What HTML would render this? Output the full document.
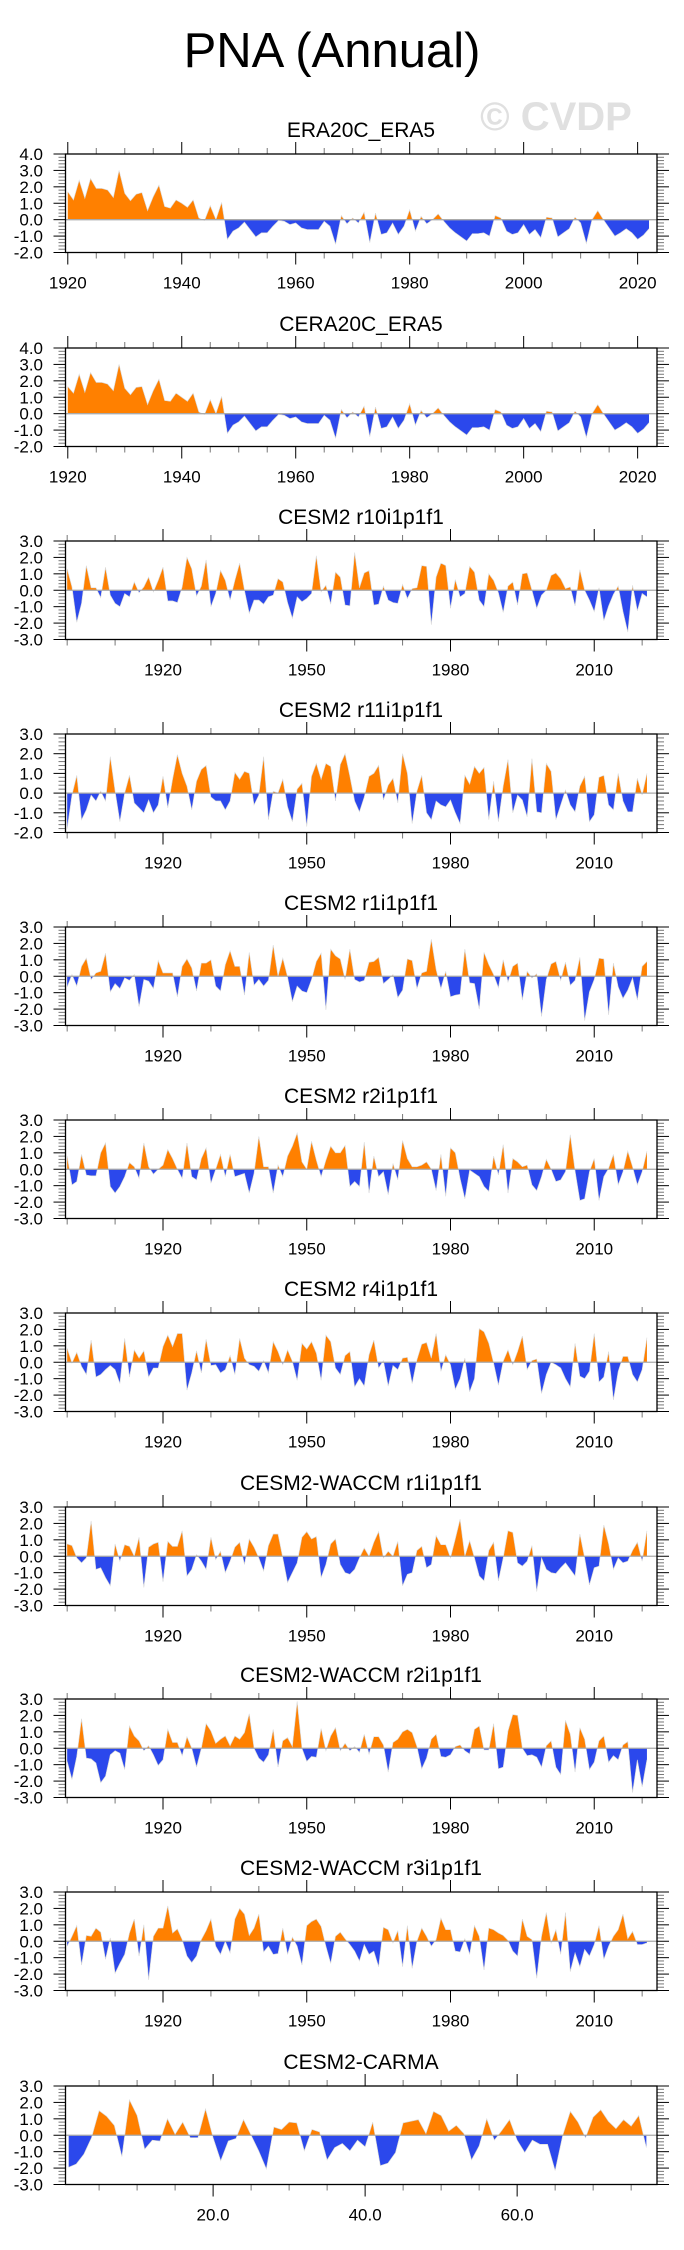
<!DOCTYPE html>
<html><head><meta charset="utf-8">
<style>
body{margin:0;background:#fff;}
svg{display:block;font-family:"Liberation Sans",Arial,sans-serif;}
</style></head>
<body>
<svg id="chart" width="684" height="2250" viewBox="0 0 684 2250">
<text x="332" y="67" font-size="49" text-anchor="middle" fill="#000">PNA (Annual)</text>
<text x="556" y="130" font-size="40" font-weight="bold" text-anchor="middle" fill="#e0e0e0">© CVDP</text>
</svg>
<script>
const titles = ["ERA20C_ERA5","CERA20C_ERA5","CESM2 r10i1p1f1","CESM2 r11i1p1f1","CESM2 r1i1p1f1","CESM2 r2i1p1f1","CESM2 r4i1p1f1","CESM2-WACCM r1i1p1f1","CESM2-WACCM r2i1p1f1","CESM2-WACCM r3i1p1f1","CESM2-CARMA"];
const era = [1.7,1.2,2.4,1.3,2.5,1.9,1.9,1.8,1.35,3.0,1.6,1.15,1.55,1.65,0.55,1.4,2.1,0.8,0.7,1.2,1.0,0.75,1.2,0.1,-0.05,0.85,0.0,1.05,-1.2,-0.7,-0.5,-0.15,-0.6,-1.05,-0.8,-0.8,-0.4,-0.05,-0.1,-0.3,-0.2,-0.5,-0.6,-0.6,-0.6,-0.1,-0.4,-1.5,0.25,-0.25,0.1,-0.2,0.45,-1.4,0.4,-0.9,-0.8,-0.2,-0.9,-0.4,0.6,-0.7,0.2,-0.25,0.0,0.35,-0.1,-0.5,-0.8,-1.05,-1.3,-0.85,-0.85,-0.8,-1.0,0.25,0.1,-0.7,-0.9,-0.8,-0.3,-0.9,-0.6,-1.1,0.15,0.1,-1.05,-0.8,-0.55,0.15,-0.2,-1.45,0.0,0.55,0.0,-0.5,-1.0,-0.8,-0.55,-0.8,-1.2,-0.95,-0.55];
const cera = [1.65,1.25,2.4,1.3,2.5,1.9,1.9,1.8,1.4,3.0,1.55,1.15,1.6,1.65,0.55,1.4,2.1,0.8,0.75,1.25,1.0,0.75,1.25,0.1,-0.05,0.85,0.0,1.05,-1.2,-0.7,-0.5,-0.15,-0.6,-1.05,-0.8,-0.8,-0.4,-0.05,-0.1,-0.3,-0.2,-0.5,-0.6,-0.6,-0.6,-0.1,-0.4,-1.5,0.25,-0.25,0.1,-0.2,0.45,-1.4,0.4,-0.9,-0.8,-0.2,-0.9,-0.4,0.6,-0.7,0.2,-0.25,0.0,0.35,-0.1,-0.5,-0.8,-1.05,-1.3,-0.85,-0.85,-0.8,-1.0,0.25,0.1,-0.7,-0.9,-0.8,-0.3,-0.9,-0.6,-1.1,0.15,0.1,-1.05,-0.8,-0.55,0.15,-0.2,-1.45,0.0,0.55,0.0,-0.5,-1.0,-0.8,-0.55,-0.8,-1.2,-0.95,-0.55];
const r10 = [1.3,0.2,-1.95,-0.8,1.5,0.15,0.15,-0.45,1.4,-0.3,-0.8,-1.0,-0.2,-0.4,0.5,-0.15,0.2,0.8,-0.1,0.6,1.4,-0.65,-0.65,-0.75,0.2,2.0,1.3,-0.35,0.25,1.85,-1.0,-0.2,1.2,0.6,-0.6,0.6,1.65,0,-1.4,-0.6,-0.6,-0.85,-0.4,-0.3,0.7,0.5,-0.75,-1.7,-0.4,-0.7,-0.5,-0.2,2.1,-0.1,0.3,-0.85,1.1,0.8,-0.9,-0.95,2.3,0.15,1.05,1.2,-0.9,-0.85,0.25,-0.6,-0.75,-0.8,0.35,-0.5,0.1,0.15,1.5,1.45,-2.1,0.8,1.65,1.5,-1.1,0.65,-0.4,-0.2,1.45,1.1,-0.6,-1.0,1.0,0.6,-0.15,-1.35,0.25,0.5,-0.9,1.0,1.05,0,-1.1,-0.3,0,0.9,1.05,0.7,0.1,0.2,-0.95,1.25,0,-0.6,-1.3,0.15,-1.85,-0.95,-0.25,0.25,-1.3,-2.55,0.3,-1.25,-0.2,-0.4];
const r11 = [-1.8,-0.1,0.9,-1.35,-0.85,-0.1,-0.4,0.1,-0.4,1.85,0.1,-1.45,0,0.9,-0.5,-0.75,-1.0,-0.35,-1.0,-0.6,0.85,-0.75,0.7,1.95,1.0,0.35,-0.85,0.6,1.2,1.4,-0.2,-0.4,-0.4,-0.85,-0.4,1.05,0.7,1.1,1.0,-0.6,-0.1,1.85,-1.35,0.1,0,0.7,-0.7,-1.45,0.2,0.5,-1.7,0.85,1.5,0.7,1.5,1.35,-0.4,1.45,2.0,0.85,-0.4,-0.95,-0.2,0.85,1.0,1.4,-0.35,0.4,0.75,-0.5,2.0,1.0,-1.55,0.1,0.9,-1.0,-1.35,-0.4,-0.6,-0.7,-0.35,-1.0,-1.55,0.9,0.45,1.35,1.0,1.3,-1.35,0.6,-1.45,0.35,1.7,-1.0,-0.1,-0.35,-1.2,1.75,-0.95,-1.0,1.5,1.1,-1.35,-0.6,0.15,-0.6,-0.95,0.35,0.85,-1.45,-1.1,0.8,0.9,-0.6,-0.85,1.0,-0.4,-0.95,-0.95,0.75,-0.1,1.0];
const r1 = [-0.65,0.1,-0.6,0.6,1.1,-0.2,0.2,0.3,1.4,-0.95,-0.45,-0.75,-0.1,-0.25,0.1,-1.85,-0.2,-0.3,-0.75,0.95,0.2,0.2,0.2,-1.25,0.6,1.05,0.5,-0.9,0.8,0.8,1.0,-0.6,-0.9,0.7,1.55,0.6,0.6,-1.15,1.45,-0.55,-0.2,-0.6,-0.25,1.9,0.0,1.1,-0.05,-1.55,-0.6,-0.9,-1.0,-0.2,0.9,1.4,-2.05,1.65,1.25,1.05,-0.2,1.65,-0.2,-0.35,-0.25,0.85,0.9,1.15,-0.45,-0.2,0.1,-1.3,-0.85,1.05,0.95,-0.75,0.2,0.3,2.25,0.4,-0.75,0.3,-1.25,-1.15,-1.1,1.65,-0.4,-0.45,-2.0,1.45,0.7,0.1,-0.7,1.0,-0.35,0.6,0.8,-1.45,0.3,-0.1,0.15,-2.45,-0.2,0.75,0.9,-0.25,0.85,-0.55,-0.25,1.15,-2.7,-0.95,-0.2,1.1,1.05,-2.35,0.8,-0.65,-1.35,-0.85,-0.1,-1.45,0.6,0.9];
const r2 = [0.8,-0.95,-0.75,0.9,-0.35,-0.4,-0.4,1.0,1.6,-1.05,-1.45,-1.05,-0.45,0.4,0.15,-0.55,1.6,0.15,-0.3,0,0.25,1.2,0.65,0,-0.55,1.6,-0.45,-0.65,0.65,1.3,-0.85,0,0.9,-0.45,0.9,-0.45,-0.35,-0.25,-1.45,-0.25,2.0,0.15,0.15,-1.45,0.25,-0.45,0.8,1.4,2.2,0.45,0,1.7,0.55,-0.45,0.55,1.4,1.0,1.0,1.45,-1.05,-0.75,-1.05,1.65,-1.45,0.8,-0.45,-0.15,-1.55,0.35,-0.65,1.75,0.65,0.15,0.15,0.25,0.45,0,-1.3,0.9,-1.65,1.3,1.0,-0.55,-1.8,-0.05,-0.25,-0.45,-1.05,-1.35,0.8,-0.35,1.5,-1.45,0.65,0.45,0.15,0.25,-0.95,-1.3,-0.45,0.6,0,-0.75,-0.65,-0.15,2.1,-0.1,-1.9,-1.8,-0.15,0.65,-1.9,-0.45,0.05,0.9,-0.95,-0.15,1.1,0.15,-0.95,-0.15,1.1];
const r4 = [0.85,-0.05,0.6,-0.25,-0.75,1.35,-0.9,-0.75,-0.45,-0.2,-0.45,-1.3,1.45,-0.9,0.75,0.25,0.7,-0.9,-0.35,-0.35,0.95,1.65,0.95,1.75,1.75,-1.7,-0.65,0.7,-0.65,1.4,-0.2,-0.15,-0.65,-0.45,0.4,-0.75,1.45,0.25,-0.15,-0.25,-0.55,0.1,-0.65,1.25,0.65,-0.15,0.75,0.05,-1.1,1.15,0.8,1.25,0.55,-1.1,1.65,1.25,-0.35,-0.75,0.4,0.65,-1.5,-1.0,-1.45,0.45,1.35,-0.35,0.1,-1.45,-0.2,-0.45,0.25,0.3,-1.3,0.15,1.1,1.2,0.25,1.75,-0.55,0.45,-0.15,-1.65,-1.0,0.25,-1.8,-1.0,2.05,1.85,1.15,-0.05,-1.4,0.05,0.75,-0.15,0.65,1.6,-0.45,0.1,0.2,-1.9,-0.75,0,-0.15,-0.35,-1.0,-1.5,1.15,-0.85,-1.0,-0.55,1.75,-1.2,-0.9,0.65,-2.3,-0.55,0.35,0.35,-0.75,-1.2,-0.45,1.5];
const w1 = [0.75,0.65,-0.1,-0.4,-0.1,2.15,-0.8,-0.7,-1.3,-1.8,0.75,-0.3,0.7,0.6,0,1.15,-1.9,0.55,0.75,0.85,-1.55,0.9,0.6,0.6,1.55,-1.2,-0.8,0.1,-0.3,-0.8,1.15,-0.2,0.3,-1.0,-0.3,0.55,0.85,-0.5,1.05,0.55,-0.1,-0.9,0.65,1.35,1.35,-0.1,-1.6,-1.0,-0.4,1.15,1.5,1.05,1.2,-1.3,-0.5,0.75,1.05,-0.5,-1.0,-1.1,-0.8,-0.1,0.5,0,0.85,1.5,-0.1,0.3,0,0.9,-1.8,-1.1,-1.0,0.35,0.6,-0.7,-0.5,1.25,0.7,0.7,-0.1,1.05,2.25,0,0.95,-0.1,-1.2,-1.5,0.35,0.85,-1.5,-0.1,1.55,1.45,-0.4,-0.6,-0.3,0.65,-2.15,-0.1,-0.8,-1.0,-1.05,-0.7,-0.4,-0.8,-1.2,1.35,-0.1,-1.75,-0.7,-0.6,1.9,0.75,-0.8,-0.1,-0.4,-0.3,0.35,0.85,-0.3,1.55];
const w2 = [-0.8,-1.9,-0.5,1.8,-0.6,-0.65,-0.9,-2.1,-1.7,-0.4,-0.15,-0.3,-1.3,1.35,0.75,0.45,-0.15,0.15,-0.4,-1.05,-0.7,1.15,0.35,0.35,-0.45,0.7,0,-1.15,0,1.5,1.05,0.3,0.55,0.75,0.15,0.75,0.55,0.95,2.1,0,-0.6,-0.85,-0.4,1.15,-1.15,0.45,0.65,0.1,2.85,0,-0.8,-0.5,-0.55,1.2,-0.15,0.75,1.25,-0.15,0.3,-0.15,0.1,-0.25,0.85,-0.35,0.7,0.7,0.2,-1.45,0.35,0.55,1.0,1.15,0.95,0.1,-1.25,-0.6,0.55,0.85,-0.5,-0.55,-0.4,0.1,0.2,-0.15,-0.35,1.15,1.35,-0.1,-0.1,1.5,-1.25,-1.15,1.05,2.05,2.0,0,-0.45,-0.4,-0.55,-1.15,0.15,0.45,-1.15,-1.6,1.7,0.85,-1.45,1.25,0.55,-1.3,-0.85,0.45,0.75,-0.85,-0.45,-0.7,0.2,0.4,-2.7,-0.7,-2.35,-0.7];
const w3 = [-0.3,0.3,0.95,-1.45,0.35,0.3,0.8,0.55,-1.1,0.2,-1.95,-1.35,-0.8,0.5,1.35,-0.9,1.0,-2.35,0.3,0.8,0.8,2.15,0.5,0.75,0.1,-0.9,-1.3,-0.9,0.1,0.65,1.35,-0.3,-0.8,0,-0.7,1.35,2.0,1.65,0.35,0.8,1.65,-0.65,-0.3,-0.8,-0.75,0.8,-0.8,0.25,-0.3,-1.45,0.95,1.2,1.35,0.9,-0.3,-1.35,0.3,0.55,0.15,-0.2,-0.6,-1.2,-0.2,-0.8,-0.6,-1.55,0.85,0.7,-0.1,0.65,-1.55,0.95,-1.65,0,0.8,0.3,-0.3,0.1,1.4,0.7,0.7,-0.6,-0.65,0.15,-0.8,0.95,0.3,-1.75,0.8,0.7,0.5,0.35,0.05,-0.6,-0.9,1.35,0.3,0.1,-2.25,0.3,1.75,-0.1,0.7,-0.8,1.75,-1.85,-0.7,-1.55,-0.5,-0.9,-0.2,0.95,-1.1,-0.3,0.3,0.7,1.65,0.15,0.6,-0.2,-0.2,-0.1];
const carma = [-1.95,-1.75,-1.15,-0.15,1.5,1.15,0.6,-1.3,2.15,1.2,-0.85,-0.3,-0.35,1.0,0.05,0.8,-0.15,-0.15,1.6,-0.15,-1.55,-0.35,-0.2,0.95,0,-0.95,-2.05,0.5,0.35,0.8,0.75,-0.95,0.35,0.2,-1.5,-0.75,-0.5,-0.95,-0.3,-0.7,0.8,-1.85,-1.7,-1.05,0.75,0.85,0.95,0.1,1.45,1.2,0.25,0.6,0.1,-1.5,-0.65,1.0,-0.3,0.3,0.95,-0.3,-1.05,-0.3,-0.55,-0.55,-2.15,0,1.45,0.8,-0.15,1.1,1.55,0.85,0.4,0.95,0.55,1.2,-0.75];
const seriesList = [era,cera,r10,r11,r1,r2,r4,w1,w2,w3,carma];
const startX = [1920,1920,1900,1900,1900,1900,1900,1900,1900,1900,1];
const yMinList = [-2,-2,-3,-2,-3,-3,-3,-3,-3,-3,-3];
const yMaxList = [4,4,3,3,3,3,3,3,3,3,3];
const eraTicks = [1920,1940,1960,1980,2000,2020];
const cesmTicks = [1920,1950,1980,2010];
const carmaTicks = [20,40,60];

const svg = document.getElementById('chart');
const NS = 'http://www.w3.org/2000/svg';
const L = 65.5, R = 657, H = 98.5;
const tops = [154,348,541,734,927,1120,1313,1507,1699,1892,2086];
function mk(tag, attrs, parent){const e=document.createElementNS(NS,tag);for(const k in attrs)e.setAttribute(k,attrs[k]);(parent||svg).appendChild(e);return e;}

seriesList.forEach((data, p) => {
  const top = tops[p], bot = top + H;
  const ymin = yMinList[p], ymax = yMaxList[p];
  let xmin, xmax, majors, minorStep, minorStart, fmt;
  if (p < 2) { xmin = 1919.6; xmax = 2023.4; majors = eraTicks; minorStep = 5; minorStart = 1920; fmt = v => String(v); }
  else if (p < 10) { xmin = 1899.65; xmax = 2023.1; majors = cesmTicks; minorStep = 10; minorStart = 1900; fmt = v => String(v); }
  else { xmin = 0.58; xmax = 78.4; majors = carmaTicks; minorStep = 5; minorStart = 5; fmt = v => v.toFixed(1); }
  const sx = v => L + (v - xmin) / (xmax - xmin) * (R - L);
  const sy = v => bot - (v - ymin) / (ymax - ymin) * H;
  const g = mk('g', {});
  
  
  const t = mk('text', {x: 361, y: top - 17, 'font-size': 21, 'text-anchor': 'middle', fill: '#000'}, g);
  t.textContent = titles[p];
  
  
  const cid = 'c' + p;
  const defs = mk('defs', {}, g);
  const cpA = mk('clipPath', {id: cid + 'a'}, defs);
  mk('rect', {x: L, y: top, width: R - L, height: sy(0) - top}, cpA);
  const cpB = mk('clipPath', {id: cid + 'b'}, defs);
  mk('rect', {x: L, y: sy(0), width: R - L, height: bot - sy(0)}, cpB);
  const pts = data.map((v, i) => sx(startX[p] + i).toFixed(2) + ',' + sy(v).toFixed(2));
  const x0 = sx(startX[p]).toFixed(2), xn = sx(startX[p] + data.length - 1).toFixed(2);
  const poly = x0 + ',' + sy(0) + ' ' + pts.join(' ') + ' ' + xn + ',' + sy(0);
  const pos = mk('polygon', {points: poly, fill: '#ff8000', 'clip-path': 'url(#' + cid + 'a)'}, g);
  
  
  const neg = mk('polygon', {points: poly, fill: '#2b48ec', 'clip-path': 'url(#' + cid + 'b)'}, g);
  
  
  const ln = mk('polyline', {points: pts.join(' '), fill: 'none', stroke: '#d8d8d8', 'stroke-width': 0.6}, g);
  
  
  const z = mk('line', {x1: L, x2: R, y1: sy(0), y2: sy(0), stroke: '#aaa', 'stroke-width': 1.3}, g);
  
  
  for (let k = 0; k <= Math.round((ymax - ymin) * 5); k++) {
    const v = ymin + k * 0.2, y = sy(v), major = k % 5 === 0;
    const len = major ? 12 : 7;
    mk('line', {x1: L - len, x2: L, y1: y, y2: y, stroke: major ? '#000' : '#777', 'stroke-width': 1}, g);
    mk('line', {x1: R, x2: R + len, y1: y, y2: y, stroke: major ? '#000' : '#777', 'stroke-width': 1}, g);
    if (major) {
      const lb = mk('text', {x: 43, y: y + 6, 'font-size': 17, 'text-anchor': 'end', fill: '#000'}, g);
      lb.textContent = v.toFixed(1);
      
      
    }
  }
  for (let v = minorStart; v <= xmax; v += minorStep) {
    if (v < xmin) continue;
    const x = sx(v), major = majors.includes(v);
    const len = major ? 12 : 6;
    mk('line', {x1: x, x2: x, y1: top - len, y2: top, stroke: major ? '#000' : '#777', 'stroke-width': 1}, g);
    mk('line', {x1: x, x2: x, y1: bot, y2: bot + len, stroke: major ? '#000' : '#777', 'stroke-width': 1}, g);
  }
  majors.forEach(v => {
    const lb = mk('text', {x: sx(v), y: bot + 36, 'font-size': 17, 'text-anchor': 'middle', fill: '#000'}, g);
    lb.textContent = fmt(v);
    
    
  });
  const fr = mk('rect', {x: L, y: top, width: R - L, height: H, fill: 'none', stroke: '#000', 'stroke-width': 1.3}, g);
  
  
});
</script>
</body></html>
